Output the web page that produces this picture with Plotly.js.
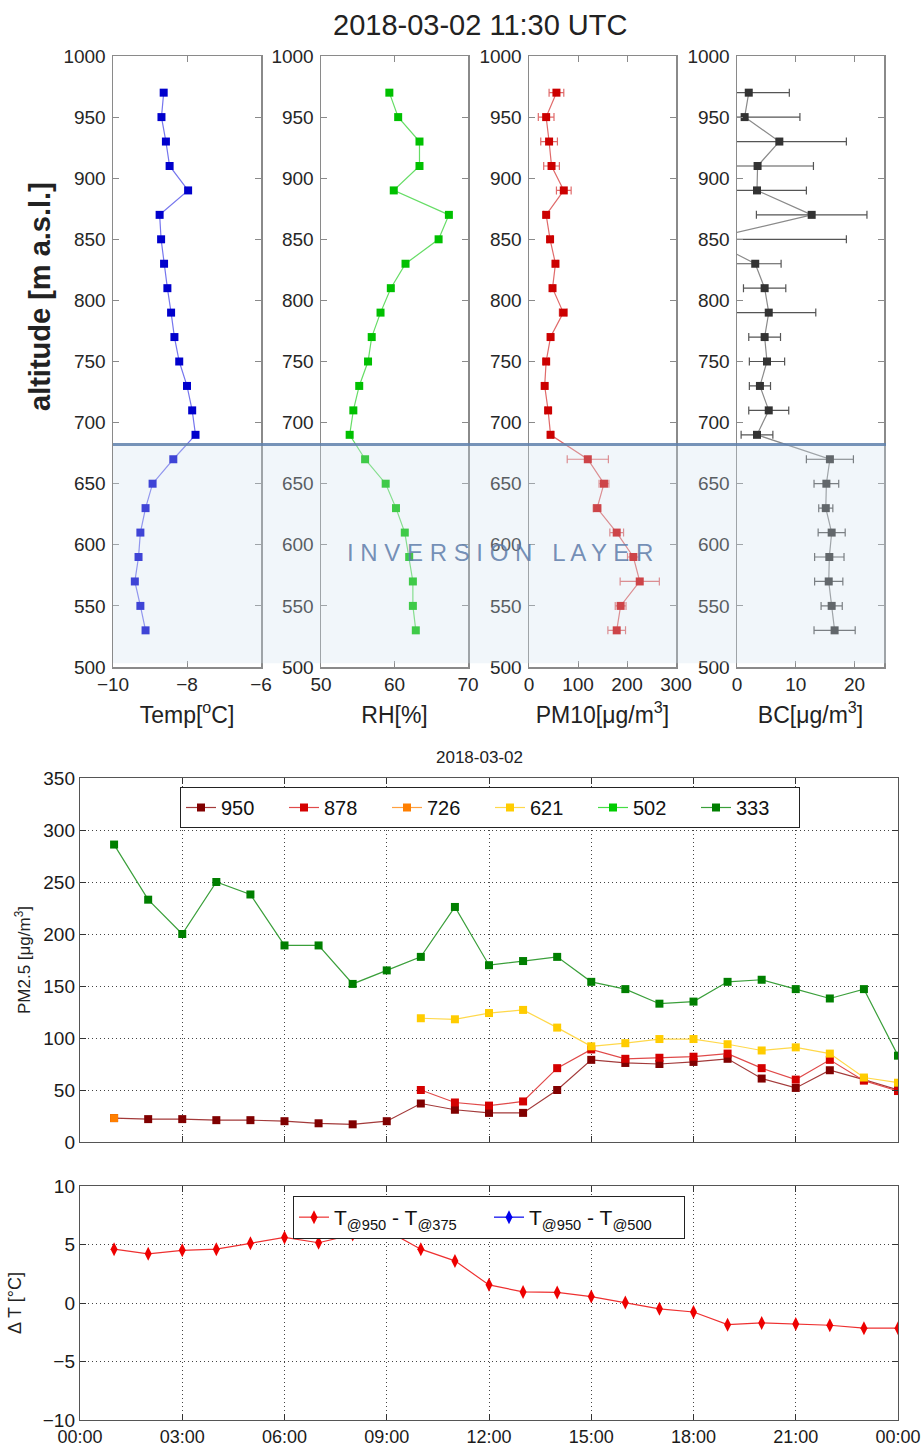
<!DOCTYPE html>
<html><head><meta charset="utf-8">
<script src="https://cdn.plot.ly/plotly-3.0.1.min.js"></script>
<style>body{margin:0;background:#fff}#chart{width:922px;height:1447px}</style>
</head><body><div id="chart"></div>
<script>
// ---- vertical profiles (top row) ----
const altitude = [970,950,930,910,890,870,850,830,810,790,770,750,730,710,690,670,650,630,610,590,570,550,530];
const tempC   = [-8.63,-8.69,-8.57,-8.47,-7.97,-8.74,-8.70,-8.62,-8.53,-8.43,-8.34,-8.21,-8.00,-7.86,-7.77,-8.37,-8.93,-9.12,-9.26,-9.31,-9.41,-9.26,-9.12];
const rh      = [59.3,60.5,63.4,63.4,59.9,67.4,66.0,61.5,59.5,58.1,56.9,56.4,55.2,54.4,53.9,56.0,58.8,60.2,61.4,62.0,62.5,62.5,62.9];
const pm10    = [56,35,41,46,71,35,43,54,48,70,44,35,32,39,44,120,153,139,179,213,226,187,179];
const pm10Err = [15,16,17,16,15,5,5,5,4,8,6,5,4,5,5,42,10,8,14,12,40,11,18];
const bc      = [2.0,1.3,7.2,3.5,3.4,12.7,-5.0,3.1,4.7,5.4,4.7,5.1,3.9,5.4,3.4,15.8,15.2,15.1,16.1,15.7,15.6,16.1,16.6];
const bcErr   = [6.9,9.4,11.4,9.5,8.4,9.4,23.6,4.4,3.6,8.0,2.7,3.0,1.8,3.4,2.7,4.0,2.1,1.2,2.3,2.5,2.4,1.8,3.5];
const inversionTop = 682, inversionBottom = 503;

// ---- time series (middle / bottom) ----
const hours = [1,2,3,4,5,6,7,8,9,10,11,12,13,14,15,16,17,18,19,20,21,22,23,24];
const timeTickVals = [0,3,6,9,12,15,18,21,24];
const timeTickText = ['00:00','03:00','06:00','09:00','12:00','15:00','18:00','21:00','00:00'];
const pm950 = [23,22,22,21,21,20,18,17,20,37,31,28,28,50,79,76,75,77,80,61,52,69,60,50];
const pm878 = [null,null,null,null,null,null,null,null,null,50,38,35,39,71,89,80,81,82,85,71,60,79,59,49];
const pm726 = [23,null,null,null,null,null,null,null,null,null,null,null,null,null,null,null,null,null,null,null,null,null,null,null];
const pm621 = [null,null,null,null,null,null,null,null,null,119,118,124,127,110,92,95,99,99,94,88,91,85,62,57];
const pm502 = [null,null,null,null,null,null,null,null,null,null,null,null,null,null,null,null,null,null,null,null,null,null,null,null];
const pm333 = [286,233,200,250,238,189,189,152,165,178,226,170,174,178,154,147,133,135,154,156,147,138,147,83];
const dT375 = [4.6,4.2,4.5,4.6,5.1,5.6,5.15,5.85,6.2,4.6,3.6,1.55,0.95,0.9,0.55,0.05,-0.5,-0.77,-1.85,-1.7,-1.8,-1.9,-2.15,-2.15];
const dT500 = [null,null,null,null,null,null,null,null,null,null,null,null,null,null,null,null,null,null,null,null,null,null,null,null];

const F = 'Liberation Sans, Arial, sans-serif';
const W = 922, H = 1447;
const px = v => v / W, py = v => 1 - v / H;

function prof(x, y, xa, ya, mc, lc, err, ec) {
  const t = {x: x, y: y, xaxis: xa, yaxis: ya, type: 'scatter', mode: 'lines+markers',
    line: {color: lc, width: 1.2}, marker: {symbol: 'square', size: 8, color: mc},
    showlegend: false, cliponaxis: true};
  if (err) t.error_x = {type: 'data', array: err, visible: true, color: ec, thickness: 1.2, width: 4};
  return t;
}
function ts(y, name, mc, lc) {
  return {x: hours, y: y, name: name, xaxis: 'x5', yaxis: 'y5', type: 'scatter', mode: 'lines+markers',
    line: {color: lc, width: 1.2}, marker: {symbol: 'square', size: 8, color: mc}, legend: 'legend'};
}

const data = [
  prof(tempC, altitude, 'x', 'y', '#0000cc', '#7676ee'),
  prof(rh, altitude, 'x2', 'y2', '#00c000', '#66dd66'),
  prof(pm10, altitude, 'x3', 'y3', '#cc0000', '#e06a6a', pm10Err, '#e06a6a'),
  prof(bc, altitude, 'x4', 'y4', '#333333', '#8a8a8a', bcErr, '#555555'),
  ts(pm950, '950', '#800000', '#a33a3a'),
  ts(pm878, '878', '#d40000', '#e04a4a'),
  ts(pm726, '726', '#ff7f00', '#ffa040'),
  ts(pm621, '621', '#ffcc00', '#ffd84a'),
  ts(pm502, '502', '#00cc00', '#44dd44'),
  ts(pm333, '333', '#007f00', '#3a9f3a'),
  {x: hours, y: dT375, name: 'T<sub>@950</sub> - T<sub>@375</sub>', xaxis: 'x6', yaxis: 'y6', type: 'scatter',
   mode: 'lines+markers', line: {color: '#ee3030', width: 1.2}, marker: {symbol: 'diamond-tall', size: 10, color: '#ee0000'}, legend: 'legend2'},
  {x: hours, y: dT500, name: 'T<sub>@950</sub> - T<sub>@500</sub>', xaxis: 'x6', yaxis: 'y6', type: 'scatter',
   mode: 'lines+markers', line: {color: '#0000ee', width: 1.2}, marker: {symbol: 'diamond-tall', size: 10, color: '#0000ee'}, legend: 'legend2'}
];

const topTick = {family: F, size: 19, color: '#262626'};
const topY = [py(667), py(56)];
function topX(dom, range, tv, title, ya) {
  return {domain: dom, range: range, tickvals: tv, anchor: ya, showline: true, mirror: 'ticks', linecolor: '#8a8a8a',
    linewidth: 1.5, ticks: 'inside', ticklen: 6, tickcolor: '#8a8a8a', showgrid: false, zeroline: false,
    tickfont: topTick, title: {text: title, font: {family: F, size: 23, color: '#222'}, standoff: 12}};
}
function topYax(xa) {
  return {domain: topY, range: [500, 1000], dtick: 50, anchor: xa, showline: true, mirror: 'ticks', linecolor: '#8a8a8a',
    linewidth: 1.5, ticks: 'inside', ticklen: 6, tickcolor: '#8a8a8a', showgrid: false, zeroline: false,
    tickfont: topTick, ticklabelstandoff: 2};
}
const tsDom = [px(80), px(898)];
const gridCommon = {showgrid: true, gridcolor: '#444', griddash: '1px,3px', gridwidth: 1, zeroline: false,
  showline: true, mirror: 'ticks', linecolor: '#555', linewidth: 1.2, ticks: 'inside', ticklen: 6, tickcolor: '#333'};
const tsFont = {family: F, size: 19, color: '#1a1a1a'};

const layout = {
  width: W, height: H, margin: {l: 0, r: 0, t: 0, b: 0}, paper_bgcolor: '#fff', plot_bgcolor: 'rgba(0,0,0,0)',
  font: {family: F, color: '#222'},
  xaxis:  topX([px(113), px(261)], [-10, -6], [-10, -8, -6], 'Temp[<sup>o</sup>C]', 'y'),
  yaxis:  topYax('x'),
  xaxis2: topX([px(321), px(468)], [50, 70], [50, 60, 70], 'RH[%]', 'y2'),
  yaxis2: topYax('x2'),
  xaxis3: topX([px(529), px(676)], [0, 300], [0, 100, 200, 300], 'PM10[μg/m<sup>3</sup>]', 'y3'),
  yaxis3: topYax('x3'),
  xaxis4: topX([px(737), px(884)], [0, 25], [0, 10, 20], 'BC[μg/m<sup>3</sup>]', 'y4'),
  yaxis4: topYax('x4'),
  xaxis5: Object.assign({domain: tsDom, range: [0, 24], tickvals: timeTickVals, showticklabels: false, anchor: 'y5'}, gridCommon),
  yaxis5: Object.assign({domain: [py(1142), py(778)], range: [0, 350], dtick: 50, anchor: 'x5', tickfont: tsFont,
    title: {text: 'PM2.5 [μg/m<sup>3</sup>]', font: {family: F, size: 17, color: '#222'}, standoff: 8}}, gridCommon),
  xaxis6: Object.assign({domain: tsDom, range: [0, 24], tickvals: timeTickVals, ticktext: timeTickText, anchor: 'y6',
    tickfont: {family: F, size: 18, color: '#1a1a1a'}, ticklabelstandoff: 0}, gridCommon),
  yaxis6: Object.assign({domain: [py(1420), py(1186)], range: [-10, 10], dtick: 5, anchor: 'x6', tickfont: tsFont,
    title: {text: 'Δ T [°C]', font: {family: F, size: 18, color: '#222'}, standoff: 16}}, gridCommon),
  legend: {orientation: 'h', x: px(490), xanchor: 'center', y: py(787), yanchor: 'top', bgcolor: '#fff',
    bordercolor: '#222', borderwidth: 1, font: {family: F, size: 20, color: '#111'}, itemwidth: 30,
    entrywidth: 58, entrywidthmode: 'pixels'},
  legend2: {orientation: 'h', x: px(489), xanchor: 'center', y: py(1196), yanchor: 'top', bgcolor: '#fff',
    bordercolor: '#222', borderwidth: 1, font: {family: F, size: 21, color: '#111'}, itemwidth: 30,
    entrywidth: 150, entrywidthmode: 'pixels'},
  shapes: [
    {type: 'rect', xref: 'paper', yref: 'y', x0: px(113), x1: px(886), y0: inversionBottom, y1: inversionTop,
     fillcolor: 'rgba(210,224,240,0.3)', line: {width: 0}, layer: 'above'},
    {type: 'line', xref: 'paper', yref: 'y', x0: px(113), x1: px(886), y0: inversionTop, y1: inversionTop,
     line: {color: 'rgba(95,128,172,0.85)', width: 3}, layer: 'above'}
  ],
  annotations: [
    {text: '2018-03-02 11:30 UTC', xref: 'paper', yref: 'paper', x: px(480), y: py(25), yanchor: 'middle', showarrow: false,
     font: {family: F, size: 29, color: '#222'}},
    {text: '<b>altitude [m a.s.l.]</b>', xref: 'paper', yref: 'paper', x: px(40), y: py(297), textangle: -90,
     xanchor: 'center', yanchor: 'middle', showarrow: false, font: {family: F, size: 29, color: '#222'}},
    {text: 'I N V E R S I O N   L A Y E R', xref: 'paper', yref: 'y', x: px(500), y: 594, yanchor: 'middle',
     showarrow: false, font: {family: F, size: 24, color: 'rgba(95,125,170,0.85)'}},
    {text: '2018-03-02', xref: 'paper', yref: 'paper', x: px(480), y: py(757), yanchor: 'middle', showarrow: false,
     font: {family: F, size: 17, color: '#222'}}
  ]
};

Plotly.newPlot('chart', data, layout, {staticPlot: true, displayModeBar: false});
</script></body></html>
